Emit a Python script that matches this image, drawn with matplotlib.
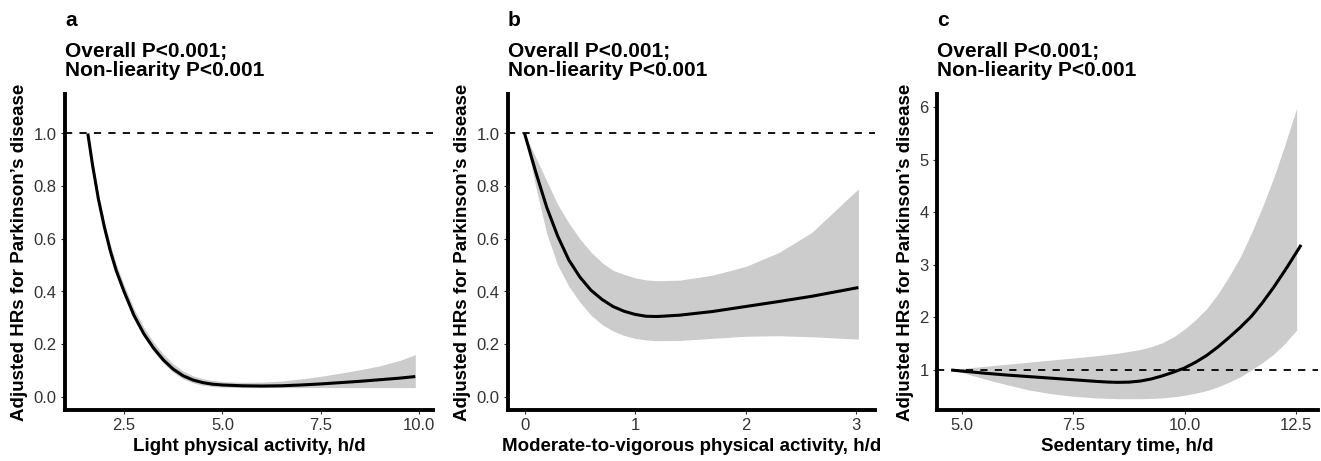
import numpy as np
import matplotlib
matplotlib.use("Agg")
import matplotlib.pyplot as plt

plt.rcParams['font.family'] = ['Liberation Sans', 'DejaVu Sans']

# panel a: light physical activity
lpa_x = [1.58, 1.7, 1.85, 2.0, 2.15, 2.3, 2.5, 2.75, 3.0, 3.25, 3.5, 3.75, 4.0, 4.25,
         4.5, 4.75, 5.0, 5.5, 6.0, 6.5, 7.0, 7.5, 8.0, 8.5, 9.0, 9.5, 9.9]
lpa_hr = [1.0, 0.88, 0.75, 0.645, 0.555, 0.48, 0.40, 0.31, 0.24, 0.185, 0.14, 0.105, 0.08, 0.064,
          0.054, 0.048, 0.045, 0.042, 0.041, 0.042, 0.045, 0.049, 0.054, 0.059, 0.065, 0.071, 0.077]
lpa_lo = [0.995, 0.875, 0.745, 0.64, 0.548, 0.472, 0.39, 0.30, 0.228, 0.172, 0.127, 0.093, 0.068, 0.053,
          0.044, 0.039, 0.037, 0.035, 0.035, 0.035, 0.035, 0.035, 0.035, 0.035, 0.035, 0.035, 0.035]
lpa_hi = [1.0, 0.89, 0.765, 0.665, 0.58, 0.505, 0.425, 0.335, 0.265, 0.208, 0.162, 0.125, 0.098, 0.08,
          0.069, 0.062, 0.058, 0.055, 0.056, 0.06, 0.068, 0.078, 0.09, 0.103, 0.118, 0.138, 0.16]

# panel b: moderate-to-vigorous physical activity
mvpa_x = [0.0, 0.1, 0.2, 0.3, 0.4, 0.5, 0.6, 0.7, 0.8, 0.9, 1.0, 1.1, 1.2, 1.4, 1.7, 2.0, 2.3, 2.6, 3.02]
mvpa_hr = [1.0, 0.855, 0.72, 0.61, 0.52, 0.455, 0.405, 0.37, 0.343, 0.325, 0.313, 0.306, 0.305,
           0.31, 0.324, 0.343, 0.362, 0.382, 0.415]
mvpa_lo = [1.0, 0.80, 0.62, 0.50, 0.42, 0.36, 0.31, 0.275, 0.25, 0.233, 0.222, 0.216, 0.213,
           0.214, 0.222, 0.23, 0.232, 0.228, 0.219]
mvpa_hi = [1.0, 0.91, 0.82, 0.73, 0.66, 0.60, 0.55, 0.51, 0.48, 0.465, 0.452, 0.444, 0.441,
           0.443, 0.462, 0.495, 0.548, 0.625, 0.79]

# panel c: sedentary time
sed_x = [4.75, 5.0, 5.5, 6.0, 6.5, 7.0, 7.5, 8.0, 8.25, 8.5, 8.75, 9.0, 9.25, 9.5, 9.75, 10.0,
         10.25, 10.5, 10.75, 11.0, 11.25, 11.5, 11.75, 12.0, 12.3, 12.62]
sed_hr = [1.0, 0.98, 0.94, 0.905, 0.875, 0.845, 0.815, 0.785, 0.772, 0.766, 0.77, 0.79, 0.83, 0.89,
          0.96, 1.04, 1.15, 1.28, 1.44, 1.62, 1.81, 2.02, 2.28, 2.57, 2.95, 3.38]
sed_ci_x = [4.75, 5.0, 5.5, 6.0, 6.5, 7.0, 7.5, 8.0, 8.5, 9.0, 9.25, 9.5, 9.75, 10.0, 10.25, 10.5,
            10.75, 11.0, 11.25, 11.5, 11.75, 12.0, 12.25, 12.52]
sed_lo = [1.0, 0.95, 0.83, 0.72, 0.62, 0.55, 0.50, 0.47, 0.455, 0.455, 0.46, 0.47, 0.49, 0.52,
          0.56, 0.61, 0.68, 0.77, 0.87, 1.0, 1.14, 1.30, 1.50, 1.76]
sed_hi = [1.0, 1.03, 1.07, 1.11, 1.15, 1.19, 1.23, 1.27, 1.32, 1.39, 1.445, 1.52, 1.63, 1.78,
          1.96, 2.17, 2.45, 2.78, 3.15, 3.6, 4.1, 4.65, 5.27, 5.98]

panels = [
    dict(letter='a', x=lpa_x, hr=lpa_hr, cx=lpa_x, lo=lpa_lo, hi=lpa_hi,
         xlabel='Light physical activity, h/d', xlim=(1.0, 10.35), ylim=(-0.05, 1.15),
         xticks=[2.5, 5.0, 7.5, 10.0], xfmt='{:.1f}',
         yticks=[0.0, 0.2, 0.4, 0.6, 0.8, 1.0], yfmt='{:.1f}',
         pos=[65, 94, 433, 410]),
    dict(letter='b', x=mvpa_x, hr=mvpa_hr, cx=mvpa_x, lo=mvpa_lo, hi=mvpa_hi,
         xlabel='Moderate-to-vigorous physical activity, h/d', xlim=(-0.15, 3.17), ylim=(-0.05, 1.15),
         xticks=[0, 1, 2, 3], xfmt='{:d}',
         yticks=[0.0, 0.2, 0.4, 0.6, 0.8, 1.0], yfmt='{:.1f}',
         pos=[508, 94, 875, 410]),
    dict(letter='c', x=sed_x, hr=sed_hr, cx=sed_ci_x, lo=sed_lo, hi=sed_hi,
         xlabel='Sedentary time, h/d', xlim=(4.43, 13.0), ylim=(0.24, 6.25),
         xticks=[5.0, 7.5, 10.0, 12.5], xfmt='{:.1f}',
         yticks=[1, 2, 3, 4, 5, 6], yfmt='{:d}',
         pos=[937, 94, 1318, 410]),
]

W, H = 1321, 461
fig = plt.figure(figsize=(W / 100, H / 100), dpi=100)

for p in panels:
    l, t, r, b = p['pos']
    ax = fig.add_axes([l / W, (H - b) / H, (r - l) / W, (b - t) / H])
    ax.fill_between(p['cx'], p['lo'], p['hi'], color='#cccccc', linewidth=0)
    ax.axhline(1.0, color='black', linewidth=1.3, dashes=(4, 4))
    ax.plot(p['x'], p['hr'], color='black', linewidth=2.2, solid_capstyle='butt',
            solid_joinstyle='round')
    ax.set_xlim(*p['xlim'])
    ax.set_ylim(*p['ylim'])
    ax.set_xticks(p['xticks'])
    ax.set_xticklabels([p['xfmt'].format(v) for v in p['xticks']])
    ax.set_yticks(p['yticks'])
    ax.set_yticklabels([p['yfmt'].format(v) for v in p['yticks']])
    for s in ['top', 'right']:
        ax.spines[s].set_visible(False)
    for s in ['left', 'bottom']:
        ax.spines[s].set_linewidth(2.8)
    ax.tick_params(length=3, width=0.8, color='#333333', labelsize=12,
                   labelcolor='#333333', pad=3)
    ax.set_xlabel(p['xlabel'], fontsize=13.5, fontweight='bold', labelpad=3)
    ax.set_ylabel('Adjusted HRs for Parkinson’s disease', fontsize=13.5,
                  fontweight='bold', labelpad=4)
    ax.annotate('Overall P<0.001;\nNon-liearity P<0.001', xy=(0, 1), xycoords='axes fraction',
                xytext=(0, 14), textcoords='offset pixels', ha='left', va='bottom',
                fontsize=15, fontweight='bold', linespacing=1.0)
    ax.annotate(p['letter'], xy=(0, 1), xycoords='axes fraction',
                xytext=(0, 64), textcoords='offset pixels', ha='left', va='bottom',
                fontsize=15, fontweight='bold')

fig.savefig('out.png', dpi=100)
